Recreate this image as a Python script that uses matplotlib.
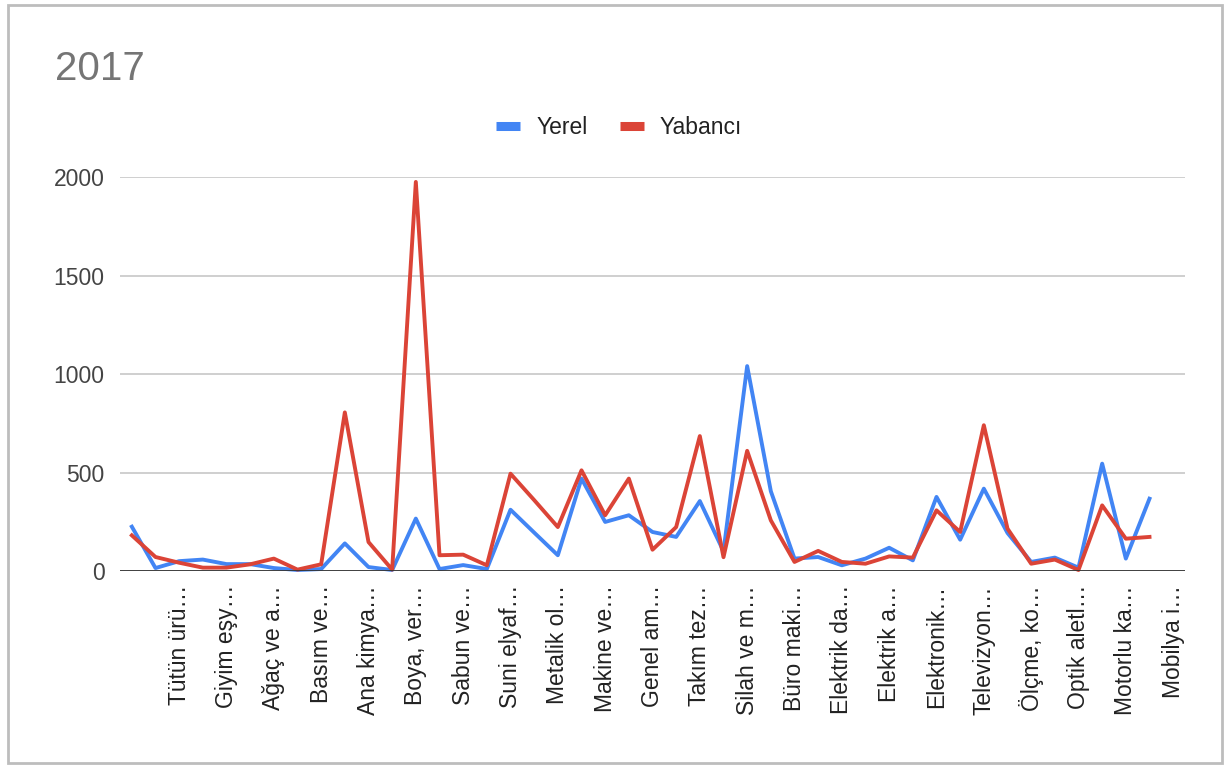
import numpy as np
import matplotlib
matplotlib.use("Agg")
import matplotlib.pyplot as plt
from matplotlib.patches import Rectangle
from matplotlib.lines import Line2D

plt.rcParams['font.family'] = ['Liberation Sans', 'DejaVu Sans']

# 45 categories, only every second label is printed by the chart
tick_positions = list(range(2, 45, 2))
tick_labels = ["Tütün ürü…", "Giyim eşy…", "Ağaç ve a…", "Basım ve…", "Ana kimya…",
               "Boya, ver…", "Sabun ve…", "Suni elyaf…", "Metalik ol…", "Makine ve…",
               "Genel am…", "Takım tez…", "Silah ve m…", "Büro maki…", "Elektrik da…",
               "Elektrik a…", "Elektronik…", "Televizyon…", "Ölçme, ko…", "Optik aletl…",
               "Motorlu ka…", "Mobilya i…"]

yerel = [225, 15, 50, 58, 35, 35, 15, 5, 10, 140, 20, 5, 266, 10, 30, 10,
         311, 195, 80, 469, 249, 283, 198, 173, 355, 100, 1040, 405, 63, 71, 29, 63,
         118, 54, 376, 159, 418, 193, 46, 68, 17, 545, 63, 367, np.nan]
yabanci = [181, 71, 42, 17, 17, 34, 63, 7, 34, 805, 147, 7, 1975, 80, 83, 29,
           494, 360, 223, 511, 283, 469, 108, 223, 685, 70, 610, 257, 46, 102, 46, 37,
           74, 68, 308, 198, 740, 215, 37, 58, 5, 333, 164, 173, np.nan]

x = np.arange(len(yerel))
blue = "#4285F4"
red = "#DB4437"

fig = plt.figure(figsize=(12.3, 7.69), dpi=100)
ax = fig.add_axes([120 / 1230, 1 - 571 / 769, 1065 / 1230, 394 / 769])

ax.plot(x, yerel, color=blue, lw=2.8, clip_on=False, zorder=3)
ax.plot(x, yabanci, color=red, lw=2.8, clip_on=False, zorder=4)

ax.set_xlim(-0.5, len(x) - 0.5)
ax.set_ylim(0, 2000)
ax.set_yticks([0, 500, 1000, 1500, 2000])
ax.set_xticks(tick_positions)
ax.set_xticklabels(tick_labels, rotation=90, ha="center", va="top", fontsize=16.5, color="#222222")
ax.tick_params(axis="y", length=0, pad=11, labelsize=16.5, labelcolor="#444444")
ax.tick_params(axis="x", length=0, pad=10)
ax.grid(axis="y", color="#cccccc", lw=1.3)
ax.axhline(0, color="#333333", lw=2, zorder=5)
for s in ax.spines.values():
    s.set_visible(False)

fig.text(55 / 1230, 1 - 69 / 769, "2017", fontsize=29, color="#757575", va="center", ha="left")

handles = [Line2D([], [], color=blue, lw=6.5, solid_capstyle="butt"),
           Line2D([], [], color=red, lw=6.5, solid_capstyle="butt")]
fig.legend(handles, ["Yerel", "Yabancı"], loc="center", bbox_to_anchor=(619 / 1230, 1 - 128 / 769),
           ncol=2, frameon=False, fontsize=16.5, handlelength=1.05, columnspacing=1.4,
           handletextpad=0.7, labelcolor="#222222")

fig.add_artist(Rectangle((8 / 1230, 6 / 769), 1214 / 1230, 758 / 769, transform=fig.transFigure,
                         fill=False, edgecolor="#bdbdbd", lw=2))

fig.savefig("out.png", dpi=100)
